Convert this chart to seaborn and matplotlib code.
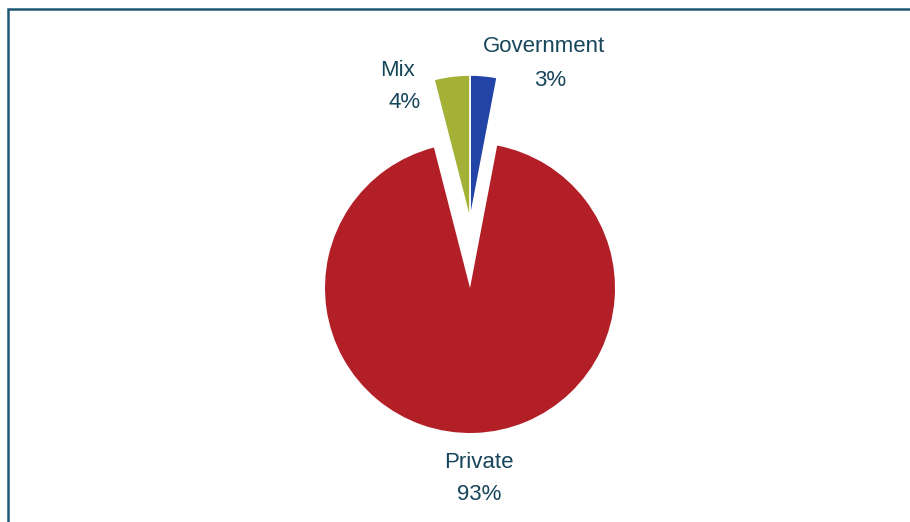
import matplotlib
matplotlib.use("Agg")
import matplotlib.pyplot as plt
import seaborn as sns

sns.set_theme(style="white")
plt.rcParams['font.family'] = ['Liberation Sans', 'DejaVu Sans']

# Ownership shares (%)
categories = ["Government", "Private", "Mix"]
shares = [3, 93, 4]
colors = ["#2244A6", "#B21F27", "#A3B236"]
text_color = "#17455A"

W, H = 910, 522
fig = plt.figure(figsize=(W / 100, H / 100), dpi=100)
ax = fig.add_axes([0, 0, 1, 1])
ax.set_xlim(0, W)
ax.set_ylim(0, H)
ax.set_aspect("equal")
ax.axis("off")

center = (470, H - 288)
radius = 145
lift = 68  # small slices pulled up away from the main slice

# main slice in place
wedges_main, _ = ax.pie(shares, colors=colors, startangle=90, counterclock=False,
                        radius=radius, center=center, frame=True,
                        wedgeprops=dict(linewidth=0))
# the two small slices lifted upward
wedges_small, _ = ax.pie(shares, colors=colors, startangle=90, counterclock=False,
                         radius=radius, center=(center[0], center[1] + lift), frame=True,
                         wedgeprops=dict(linewidth=1.2, edgecolor="white"))
for name, wm, ws in zip(categories, wedges_main, wedges_small):
    if name == "Private":
        ws.set_visible(False)
    else:
        wm.set_visible(False)

ax.set_xlim(0, W)
ax.set_ylim(0, H)
ax.axis("off")

label_pos = {
    "Government": (544, H - 47, 550, H - 81),
    "Mix": (398, H - 70, 405, H - 103),
    "Private": (479, H - 462, 479, H - 494),
}
for name, val in zip(categories, shares):
    x1, y1, x2, y2 = label_pos[name]
    ax.text(x1, y1, name, ha="center", va="center", fontsize=16, color=text_color)
    ax.text(x2, y2, f"{val}%", ha="center", va="center", fontsize=16, color=text_color)

# outer frame (top and left edges)
ax.plot([8, 8, W], [0, H - 9, H - 9], color="#1D5874", linewidth=1.8,
        solid_joinstyle="miter", clip_on=False)

fig.savefig("out.png", dpi=100)
